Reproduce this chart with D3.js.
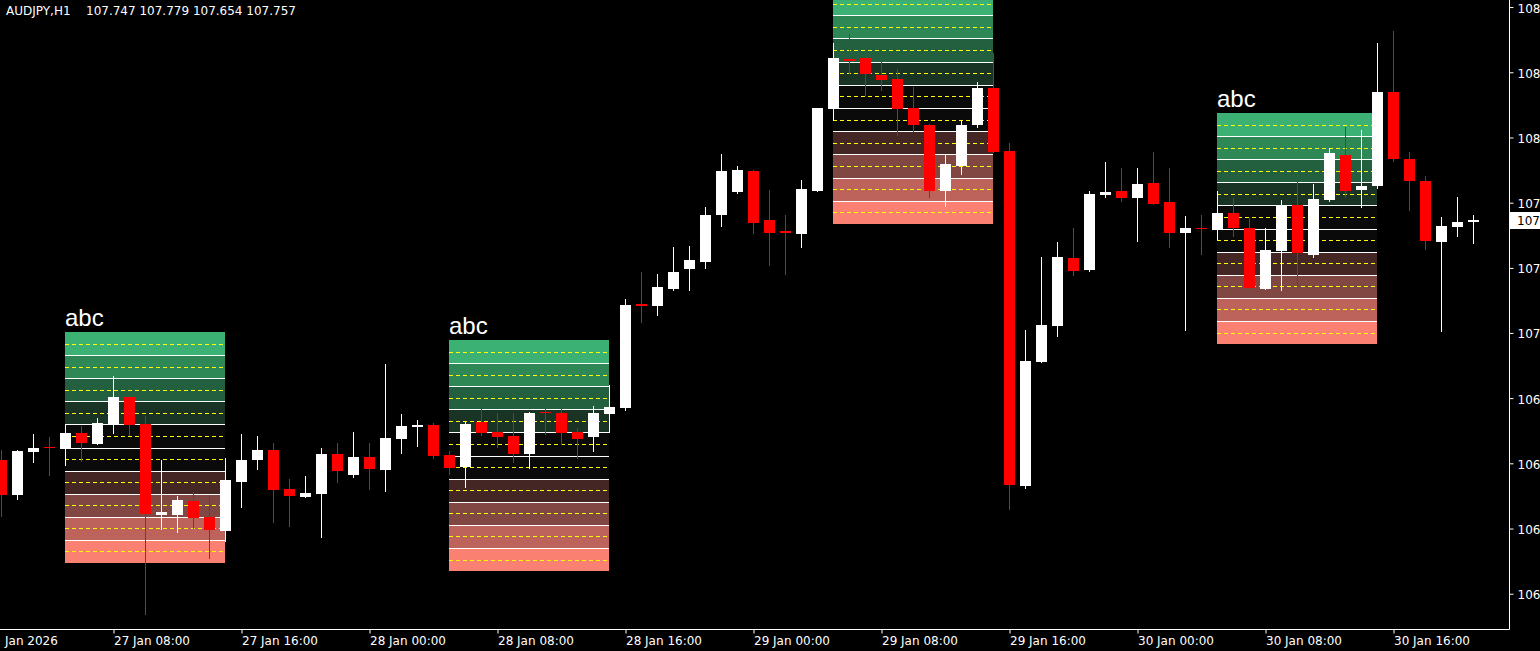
<!DOCTYPE html>
<html><head><meta charset="utf-8">
<script src="https://cdn.jsdelivr.net/npm/d3@7"></script>
<style>html,body{margin:0;padding:0;background:#000;overflow:hidden}svg{display:block}</style>
</head><body><svg id="c" width="1540" height="651"></svg>
<script>
// ---------------- data ----------------
const symbol = "AUDJPY,H1";
const firstBar = "2026-01-27T01:00";
const opens = [106.684,106.528,106.720,106.742,106.733,106.804,106.755,106.840,106.965,106.845,
106.438,106.438,106.501,106.429,106.367,106.586,106.684,106.728,106.554,106.519,
106.532,106.711,106.617,106.697,106.639,106.777,106.831,106.840,106.706,106.653,
106.853,106.809,106.791,106.711,106.896,106.894,106.809,106.786,106.889,106.916,
107.378,107.371,107.447,107.536,107.567,107.777,107.880,107.973,107.755,107.704,
107.692,107.884,108.250,108.471,108.478,108.402,108.384,108.255,108.179,107.884,
107.996,108.179,108.344,108.063,106.568,107.121,107.282,107.585,107.532,107.866,
107.884,107.853,107.920,107.835,107.697,107.719,107.710,107.786,107.719,107.447,
107.616,107.822,107.599,107.844,108.045,107.889,107.907,108.326,108.027,107.929,
107.657,107.724,107.747];
const highs = [106.728,106.728,106.800,106.786,106.845,106.836,106.871,107.059,106.965,106.880,
106.684,106.523,106.541,106.523,106.693,106.800,106.791,106.760,106.599,106.612,
106.737,106.760,106.809,106.760,107.112,106.889,106.862,106.849,106.724,106.853,
106.956,106.894,106.894,106.900,106.947,106.916,106.827,106.925,107.019,107.402,
107.523,107.514,107.634,107.639,107.813,108.049,107.996,107.978,107.889,107.777,
107.933,108.255,108.545,108.585,108.522,108.487,108.429,108.348,108.183,108.045,
108.201,108.371,108.500,108.098,107.264,107.590,107.657,107.719,107.884,108.014,
107.987,107.987,108.058,107.987,107.773,107.777,107.884,107.853,107.764,107.719,
107.844,107.965,107.916,108.076,108.170,108.156,108.545,108.598,108.058,107.951,
107.768,107.857,107.779];
const lows = [106.434,106.510,106.675,106.617,106.662,106.679,106.755,106.804,106.795,105.997,
106.376,106.362,106.380,106.246,106.322,106.474,106.644,106.407,106.389,106.519,
106.340,106.586,106.608,106.554,106.545,106.715,106.746,106.693,106.621,106.563,
106.795,106.742,106.675,106.648,106.800,106.755,106.693,106.724,106.809,106.907,
107.300,107.331,107.442,107.442,107.541,107.728,107.875,107.697,107.554,107.514,
107.634,107.884,108.201,108.411,108.313,108.335,108.134,108.152,107.857,107.817,
107.960,108.170,108.058,106.465,106.559,107.121,107.237,107.509,107.527,107.857,
107.840,107.661,107.826,107.634,107.264,107.603,107.670,107.683,107.451,107.447,
107.442,107.460,107.590,107.840,107.857,107.813,107.898,108.018,107.799,107.625,
107.259,107.683,107.654];
const closes = [106.528,106.724,106.737,106.740,106.804,106.760,106.849,106.965,106.840,106.443,
106.452,106.505,106.425,106.371,106.595,106.684,106.728,106.550,106.523,106.537,
106.711,106.635,106.697,106.644,106.782,106.836,106.840,106.702,106.648,106.845,
106.804,106.786,106.711,106.894,106.892,106.804,106.777,106.894,106.920,107.376,
107.373,107.456,107.523,107.576,107.777,107.973,107.978,107.741,107.697,107.699,
107.893,108.255,108.478,108.466,108.406,108.380,108.250,108.179,107.884,108.005,
108.179,108.344,108.058,106.572,107.126,107.286,107.590,107.527,107.871,107.880,
107.853,107.916,107.826,107.697,107.719,107.717,107.786,107.719,107.451,107.621,
107.822,107.608,107.848,108.054,107.884,107.907,108.326,108.027,107.929,107.661,
107.728,107.746,107.757];

const priceTicks = [108.705,108.414,108.123,107.832,107.541,107.251,106.960,106.669,106.378,106.087];
const timeTicks = ["2026-01-27T00:00","2026-01-27T08:00","2026-01-27T16:00","2026-01-28T00:00",
"2026-01-28T08:00","2026-01-28T16:00","2026-01-29T00:00","2026-01-29T08:00","2026-01-29T16:00",
"2026-01-30T00:00","2026-01-30T08:00","2026-01-30T16:00"];
const timeTickLabels = ["Jan 2026","27 Jan 08:00","27 Jan 16:00","28 Jan 00:00","28 Jan 08:00",
"28 Jan 16:00","29 Jan 00:00","29 Jan 08:00","29 Jan 16:00","30 Jan 00:00","30 Jan 08:00","30 Jan 16:00"];

const boxStarts = ["2026-01-27T05:00","2026-01-28T05:00","2026-01-29T05:00","2026-01-30T05:00"];
const boxEnds = ["2026-01-27T15:00","2026-01-28T15:00","2026-01-29T15:00","2026-01-30T15:00"];
const boxTops = [107.255,107.219,108.772,108.232];
const boxBottoms = [106.224,106.188,107.737,107.201];
const boxLabels = ["abc","abc","abc","abc"];
const bandColors = ["#3bb273","#2e8856","#236040","#193425","#0a0a0a","#0a0a0a","#442625","#814742","#bd635b","#fa8072"];

// ---------------- drawing ----------------
const W = 1540, H = 651, plotR = 1509, plotB = 629;
const parse = d3.utcParse("%Y-%m-%dT%H:%M");
const t0 = parse(firstBar);
const bars = opens.map((o, i) => ({t: d3.utcHour.offset(t0, i), o, h: highs[i], l: lows[i], c: closes[i]}));

const x = d3.scaleUtc().domain([parse("2026-01-27T00:00"), parse("2026-01-30T16:00")]).range([-14.5, 1393.5]);
const y = d3.scaleLinear().domain([105.9297, 108.7365]).range([plotB, 0]);

const svg = d3.select("#c");
svg.append("rect").attr("width", W).attr("height", H).attr("fill", "#000");

const plot = svg.append("g");
plot.append("clipPath").attr("id", "pc").append("rect").attr("x", 0).attr("y", 0).attr("width", plotR).attr("height", plotB);
const pg = plot.append("g").attr("clip-path", "url(#pc)");

// boxes
boxStarts.forEach((s, i) => {
  const x0 = Math.round(x(parse(s)) - 0.5), x1 = Math.round(x(parse(boxEnds[i])) - 0.5);
  const top = y(boxTops[i]), bot = y(boxBottoms[i]);
  const rh = (bot - top) / 10;
  const g = pg.append("g");
  bandColors.forEach((col, r) => {
    const ya = Math.round(top + r * rh), yb = Math.round(top + (r + 1) * rh);
    g.append("rect").attr("x", x0).attr("y", ya).attr("width", x1 - x0).attr("height", yb - ya).attr("fill", col);
  });
  for (let r = 1; r < 10; r++) {
    const yy = Math.round(top + r * rh) + 0.5;
    g.append("line").attr("x1", x0).attr("x2", x1).attr("y1", yy).attr("y2", yy).attr("stroke", "#fff").attr("stroke-width", 1);
  }
  for (let r = 0; r < 10; r++) {
    const yy = Math.round(top + (r + 0.5) * rh) + 0.5;
    g.append("line").attr("x1", x0).attr("x2", x1).attr("y1", yy).attr("y2", yy).attr("stroke", "#ffff00").attr("stroke-width", 1).attr("stroke-dasharray", "4,3");
  }
  // label sits 6px above the box; only drawn when it falls inside the visible plot
  const labelY = Math.round(top) - 6;
  if (labelY - 18 >= 0) {
    g.append("text").attr("x", x0).attr("y", labelY).text(boxLabels[i])
      .attr("fill", "#fff").attr("font-family", "'Liberation Sans', Arial, sans-serif").attr("font-size", 24);
  }
});

// candles
const cg = pg.append("g");
bars.forEach(b => {
  const cx = x(b.t);
  const col = b.c >= b.o ? "#ffffff" : "#ff0000";
  const yh = Math.round(y(b.h)), yl = Math.round(y(b.l));
  cg.append("rect").attr("x", cx - 0.5).attr("y", yh).attr("width", 1).attr("height", Math.max(1, yl - yh + 1)).attr("fill", col);
  const yt = Math.round(y(Math.max(b.o, b.c))), yb = Math.round(y(Math.min(b.o, b.c)));
  cg.append("rect").attr("x", cx - 5.5).attr("y", yt).attr("width", 11).attr("height", Math.max(1, yb - yt)).attr("fill", col);
});

// axes (price labels show only what fits in the narrow right margin, as in the terminal)
const font = "'DejaVu Sans', sans-serif";
const shortPrice = d => String(Math.floor(d));
const yAxis = d3.axisRight(y).tickValues(priceTicks).tickSize(4).tickSizeOuter(0).tickPadding(4).tickFormat(shortPrice);
const ya = svg.append("g").attr("transform", `translate(${plotR + 0.5},0)`).call(yAxis);
ya.select(".domain").attr("stroke", "#fff").attr("d", `M0,0V${plotB + 0.5}`);
ya.selectAll(".tick line").attr("stroke", "#fff");
ya.selectAll(".tick text").attr("fill", "#fff").attr("font-family", font).attr("font-size", 12).attr("dy", "0.42em");

const xAxis = d3.axisBottom(x).tickValues(timeTicks.map(parse)).tickSize(4).tickSizeOuter(0).tickFormat((d, i) => timeTickLabels[i]);
const xa = svg.append("g").attr("transform", `translate(0,${plotB + 0.5})`).call(xAxis);
xa.select(".domain").remove();
xa.selectAll(".tick line").attr("stroke", "#fff");
xa.selectAll(".tick text").attr("fill", "#fff").attr("font-family", font).attr("font-size", 12)
  .attr("text-anchor", "start").attr("y", 15.5).attr("dy", 0)
  .attr("dx", (d, i) => i === 0 ? 19 : 0);
svg.append("line").attr("x1", 0).attr("x2", plotR + 0.5).attr("y1", plotB + 0.5).attr("y2", plotB + 0.5).attr("stroke", "#fff");

// current price label
const last = bars[bars.length - 1];
const ly = y(last.c);
svg.append("rect").attr("x", plotR + 1).attr("y", Math.round(ly) - 8).attr("width", W - plotR).attr("height", 17).attr("fill", "#fff");
svg.append("text").attr("x", 1517).attr("y", Math.round(ly) + 5).text(shortPrice(last.c))
  .attr("fill", "#000").attr("font-family", font).attr("font-size", 12);

// title
const title = svg.append("text").attr("y", 15).attr("fill", "#fff").attr("font-family", font).attr("font-size", 12);
title.append("tspan").attr("x", 6).text(symbol);
title.append("tspan").attr("x", 86).text([last.o, last.h, last.l, last.c].map(d3.format(".3f")).join(" "));
</script></body></html>
